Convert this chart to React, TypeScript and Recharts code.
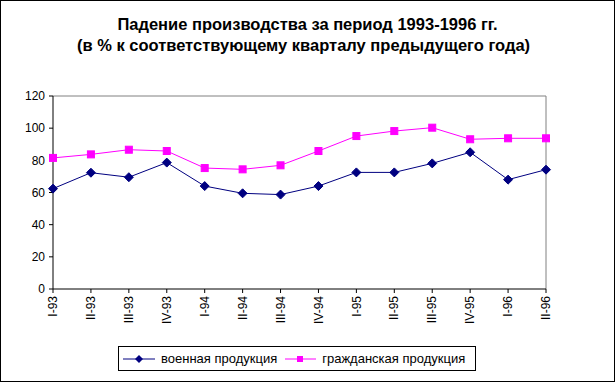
import React from 'react';
import { LineChart, Line, XAxis, YAxis, ReferenceLine } from 'recharts';

const quarters = [
  'I-93', 'II-93', 'III-93', 'IV-93',
  'I-94', 'II-94', 'III-94', 'IV-94',
  'I-95', 'II-95', 'III-95', 'IV-95',
  'I-96', 'II-96',
];
const military = [62.4, 72.3, 69.5, 78.6, 64, 59.5, 58.7, 64, 72.5, 72.5, 78.1, 85, 68, 74.2];
const civil = [81.5, 83.7, 86.6, 85.8, 75.2, 74.4, 76.9, 85.8, 95.1, 98.2, 100.3, 93.1, 93.7, 93.7];
const yTicks = [0, 20, 40, 60, 80, 100, 120];

const data = quarters.map((q, i) => ({ q, military: military[i], civil: civil[i] }));

const FONT = 'Arial, "Liberation Sans", sans-serif';
const NAVY = '#000080';
const PINK = '#ff00ff';

const Diamond = (props: any) => {
  const { cx, cy } = props;
  if (cx == null || cy == null) return null;
  const r = 4.5;
  return (
    <path
      d={`M${cx},${cy - r} L${cx + r},${cy} L${cx},${cy + r} L${cx - r},${cy} Z`}
      fill={NAVY}
      stroke={NAVY}
    />
  );
};

const Square = (props: any) => {
  const { cx, cy } = props;
  if (cx == null || cy == null) return null;
  return <rect x={cx - 3.5} y={cy - 3.5} width={7} height={7} fill={PINK} stroke={PINK} />;
};

const XTick = ({ x, y, payload }: any) => (
  <text
    x={x}
    y={y}
    transform={`rotate(-90, ${x}, ${y})`}
    textAnchor="end"
    dy="0.35em"
    fontSize={12}
    fontFamily={FONT}
    fill="#000"
  >
    {payload.value}
  </text>
);

const App: React.FC = () => {
  return (
    <div style={{ position: 'absolute', left: 0, top: 0, width: 615, height: 382, background: '#fff', fontFamily: FONT }}>
      <div
        style={{
          position: 'absolute',
          left: 0,
          top: 0,
          width: 615,
          height: 382,
          border: '1px solid #000',
          boxSizing: 'border-box',
          pointerEvents: 'none',
        }}
      />
      <div
        style={{
          position: 'absolute',
          left: 0,
          top: 14,
          width: 615,
          textAlign: 'center',
          fontWeight: 'bold',
          fontSize: 16.5,
          lineHeight: '21px',
          color: '#000',
        }}
      >
        <div style={{ paddingRight: 0 }}>Падение производства за период 1993-1996 гг.</div>
        <div style={{ paddingRight: 8 }}>(в % к соответствующему кварталу предыдущего года)</div>
      </div>

      <LineChart
        width={615}
        height={382}
        data={data}
        margin={{ top: 96, right: 69, bottom: 53, left: 0 }}
        style={{ position: 'absolute', left: 0, top: 0 }}
      >
        <XAxis
          dataKey="q"
          stroke="#000"
          tickSize={4}
          tickMargin={3}
          height={40}
          interval={0}
          tick={<XTick />}
        />
        <YAxis
          domain={[0, 120]}
          ticks={yTicks}
          width={53}
          stroke="#000"
          tickSize={4}
          tickMargin={4}
          interval={0}
          tick={{ fill: '#000', fontSize: 12, fontFamily: FONT }}
        />
        <ReferenceLine y={120} stroke="#808080" />
        <ReferenceLine x="II-96" stroke="#808080" />
        <Line
          dataKey="military"
          stroke={NAVY}
          strokeWidth={1}
          dot={<Diamond />}
          isAnimationActive={false}
        />
        <Line
          dataKey="civil"
          stroke={PINK}
          strokeWidth={1}
          dot={<Square />}
          isAnimationActive={false}
        />
      </LineChart>

      <div
        style={{
          position: 'absolute',
          left: 118,
          top: 346,
          width: 358,
          height: 25,
          border: '1px solid #000',
          boxSizing: 'border-box',
          display: 'flex',
          alignItems: 'center',
          fontSize: 13,
          color: '#000',
        }}
      >
        <svg width={34} height={10} style={{ marginLeft: 4 }}>
          <line x1={0} y1={5} x2={32} y2={5} stroke={NAVY} />
          <path d="M16,1 L20,5 L16,9 L12,5 Z" fill={NAVY} />
        </svg>
        <span style={{ marginLeft: 4 }}>военная продукция</span>
        <svg width={32} height={10} style={{ marginLeft: 8 }}>
          <line x1={0} y1={5} x2={31} y2={5} stroke={PINK} />
          <rect x={12} y={2} width={6} height={6} fill={PINK} />
        </svg>
        <span style={{ marginLeft: 5 }}>гражданская продукция</span>
      </div>
    </div>
  );
};

export default App;
